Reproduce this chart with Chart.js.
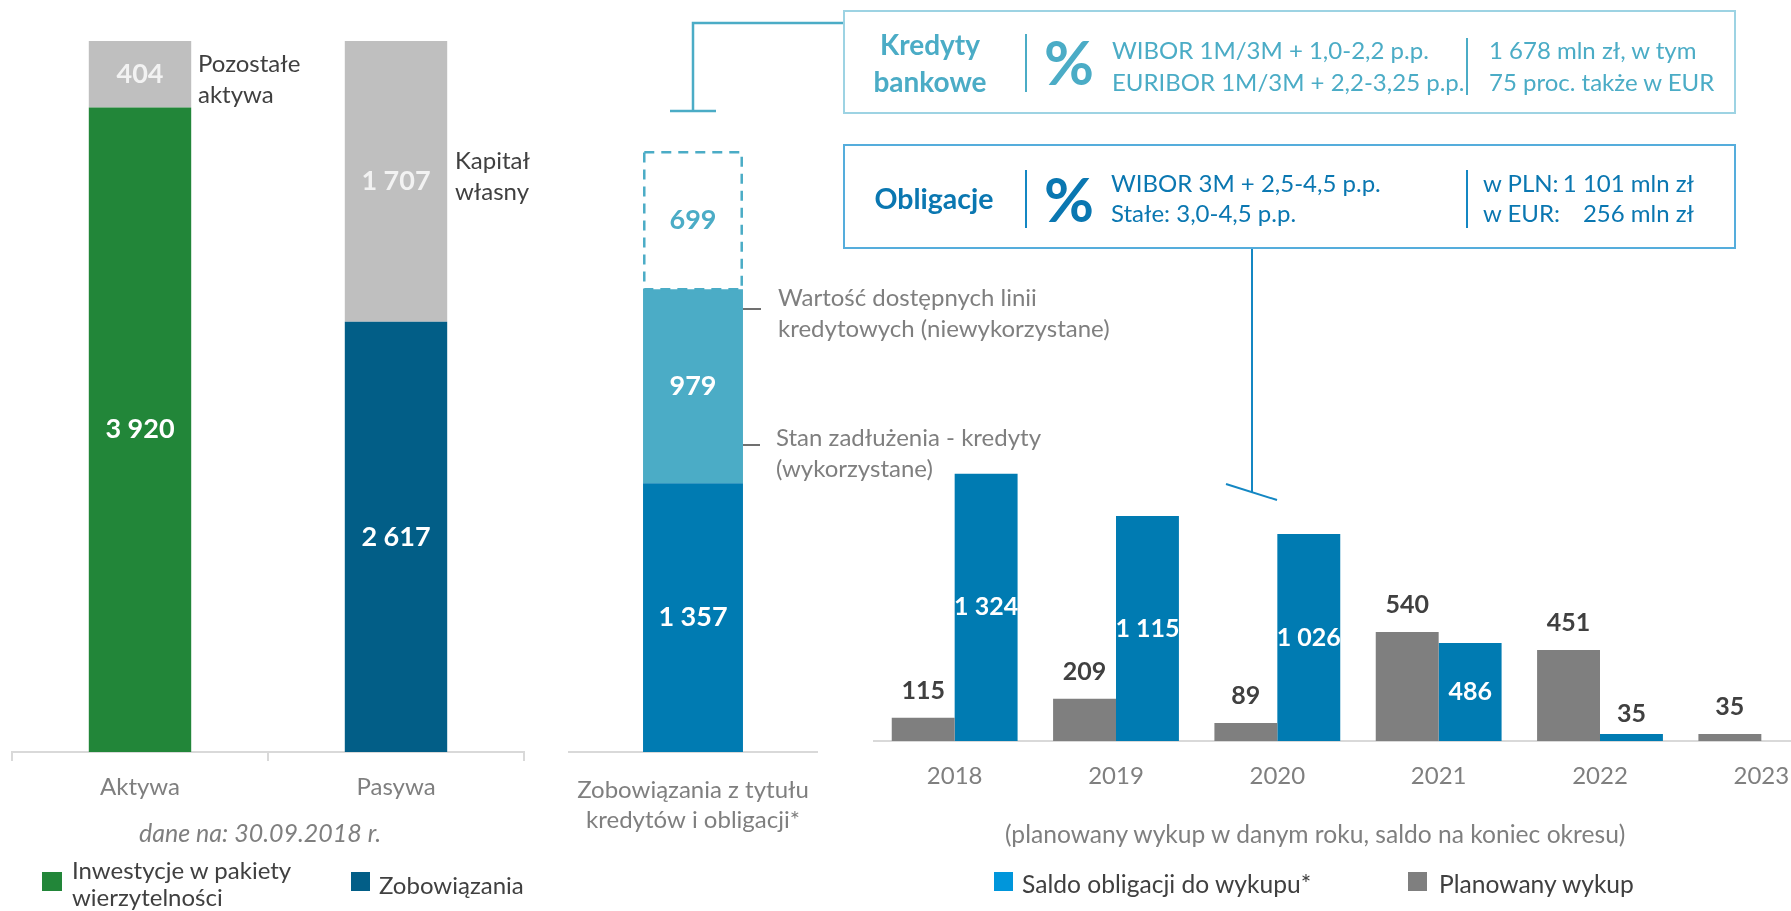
<!DOCTYPE html>
<html lang="pl">
<head>
<meta charset="utf-8">
<title>Struktura bilansu i zadłużenia</title>
<script src="https://cdn.jsdelivr.net/npm/chart.js@4.4.1/dist/chart.umd.min.js"></script>
<style>
  html, body { margin: 0; padding: 0; background: #fff; overflow: hidden; }
  body { width: 1791px; height: 911px; position: relative; font-family: Lato, sans-serif; font-size: 24px; color: #404040; }
  canvas { position: absolute; top: 0; }
  .t { position: absolute; white-space: nowrap; line-height: 31px; }
  .grey { color: #7f7f7f; }
  .box { position: absolute; left: 843px; width: 893px; box-sizing: border-box; background: #fff; }
  .sq { position: absolute; width: 19px; height: 19px; }
  svg { position: absolute; left: 0; top: 0; }
</style>
</head>
<body>

<div class="box" style="top:10px;height:104px;border:2px solid #9dd3e3;"></div>
<div class="box" style="top:144px;height:105px;border:2px solid #55addc;"></div>

<canvas id="balanceChart"></canvas>
<canvas id="debtChart"></canvas>
<canvas id="bondChart"></canvas>

<svg width="1791" height="911">
  <g fill="none" stroke="#4bacc6" stroke-width="2.5">
    <polyline points="843,23 693,23 693,111"/>
    <line x1="670" y1="111" x2="716" y2="111"/>
    <line x1="1026" y1="34" x2="1026" y2="92" stroke-width="2"/>
    <line x1="1467" y1="38" x2="1467" y2="95" stroke-width="2"/>
  </g>
  <g fill="none" stroke="#1487c3" stroke-width="2">
    <line x1="1026" y1="170" x2="1026" y2="228"/>
    <line x1="1467" y1="170" x2="1467" y2="228"/>
    <line x1="1252" y1="249" x2="1252" y2="492"/>
    <line x1="1226" y1="484" x2="1277" y2="500"/>
  </g>
  <g stroke="#404040" stroke-width="1.5">
    <line x1="743" y1="309" x2="761" y2="309"/>
    <line x1="743" y1="445" x2="760" y2="445"/>
  </g>
</svg>

<!-- box texts -->
<div class="t" style="left:830px;top:26px;width:200px;text-align:center;line-height:37px;font-weight:bold;font-size:28px;color:#4bacc6;">Kredyty<br>bankowe</div>
<div class="t" style="left:1036px;top:30px;width:66px;text-align:center;line-height:64px;font-weight:bold;font-size:61px;color:#4bacc6;">%</div>
<div class="t" style="left:1112px;top:34px;line-height:32px;color:#4bacc6;">WIBOR 1M/3M + 1,0-2,2 p.p.<br>EURIBOR 1M/3M + 2,2-3,25 p.p.</div>
<div class="t" style="left:1489px;top:34px;line-height:32px;color:#4bacc6;">1 678 mln zł, w tym<br>75 proc. także w EUR</div>

<div class="t" style="left:834px;top:180px;width:200px;text-align:center;line-height:37px;font-weight:bold;font-size:28.5px;color:#0a77b1;">Obligacje</div>
<div class="t" style="left:1036px;top:167px;width:66px;text-align:center;line-height:64px;font-weight:bold;font-size:61px;color:#0a77b1;">%</div>
<div class="t" style="left:1111px;top:168px;line-height:30px;color:#0a77b1;">WIBOR 3M + 2,5-4,5 p.p.<br>Stałe: 3,0-4,5 p.p.</div>
<div class="t" style="left:1483px;top:168px;width:211px;line-height:30px;color:#0a77b1;">
  <div style="display:flex;justify-content:space-between;"><span>w PLN:</span><span>1 101 mln zł</span></div>
  <div style="display:flex;justify-content:space-between;"><span>w EUR:</span><span>256 mln zł</span></div>
</div>

<!-- annotations -->
<div class="t" style="left:198px;top:47px;">Pozostałe<br>aktywa</div>
<div class="t" style="left:455px;top:144px;">Kapitał<br>własny</div>
<div class="t grey" style="left:778px;top:281px;">Wartość dostępnych linii<br>kredytowych (niewykorzystane)</div>
<div class="t grey" style="left:776px;top:421px;">Stan zadłużenia - kredyty<br>(wykorzystane)</div>
<div class="t grey" style="left:0;top:817px;width:520px;text-align:center;font-style:italic;font-size:25px;">dane na: 30.09.2018 r.</div>
<div class="t grey" style="left:1005px;top:818px;width:600px;text-align:center;font-size:24.6px;">(planowany wykup w danym roku, saldo na koniec okresu)</div>

<!-- legends -->
<div class="sq" style="left:42px;top:872px;width:20px;background:#228639;"></div>
<div class="t" style="left:72px;top:856px;line-height:27px;">Inwestycje w pakiety<br>wierzytelności</div>
<div class="sq" style="left:351px;top:872px;background:#025e87;"></div>
<div class="t" style="left:379px;top:869px;">Zobowiązania</div>
<div class="sq" style="left:994px;top:872px;background:#0096db;"></div>
<div class="t" style="left:1022px;top:868px;font-size:24.6px;">Saldo obligacji do wykupu*</div>
<div class="sq" style="left:1408px;top:872px;background:#7f7f7f;"></div>
<div class="t" style="left:1439px;top:868px;font-size:24.6px;">Planowany wykup</div>

<script>
// Balance sheet (mln zł)
var balanceLabels = ['Aktywa', 'Pasywa'];
var investments = [3920, null];
var liabilities = [null, 2617];
var otherItems = [404, 1707];

// Debt from loans and bonds (mln zł)
var debtLabels = [['Zobowiązania z tytułu', 'kredytów i obligacji*']];
var bondsOutstanding = [1357];
var creditUsed = [979];
var creditUnused = [699];

// Bond schedule (mln zł)
var years = ['2018', '2019', '2020', '2021', '2022', '2023'];
var plannedRedemption = [115, 209, 89, 540, 451, 35];
var bondBalance = [1324, 1115, 1026, 486, 35, null];

function fmt(v) {
    return String(v).replace(/\B(?=(\d{3})+(?!\d))/g, ' ');
}

// Value labels: inside the bar when it is tall enough, above it otherwise
var valueLabels = {
    id: 'valueLabels',
    afterDatasetsDraw: function(chart) {
        var ctx = chart.ctx;
        chart.data.datasets.forEach(function(ds, i) {
            var meta = chart.getDatasetMeta(i);
            meta.data.forEach(function(bar, j) {
                var v = ds.data[j];
                if (v === null || v === undefined) return;
                var h = bar.base - bar.y;
                var inside = ds.labelPos !== 'top' && h > 40;
                ctx.save();
                ctx.font = 'bold ' + (ds.labelSize || 27) + 'px Lato';
                ctx.fillStyle = inside ? ds.labelColor : '#404040';
                ctx.textAlign = 'center';
                ctx.textBaseline = 'middle';
                ctx.fillText(fmt(v), bar.x, inside ? (bar.y + bar.base) / 2 : bar.y - (ds.labelPos === 'top' ? 27 : 20));
                ctx.restore();
            });
        });
    }
};

// Dashed outline for the unused credit lines
var dashedBars = {
    id: 'dashedBars',
    afterDatasetsDraw: function(chart) {
        var ctx = chart.ctx;
        chart.data.datasets.forEach(function(ds, i) {
            if (!ds.dashed) return;
            chart.getDatasetMeta(i).data.forEach(function(bar) {
                ctx.save();
                ctx.strokeStyle = ds.dashColor;
                ctx.lineWidth = 2.5;
                ctx.setLineDash([10, 7]);
                ctx.strokeRect(bar.x - bar.width / 2 + 1.25, bar.y + 1.25, bar.width - 2.5, bar.base - bar.y - 1.25);
                ctx.restore();
            });
        });
    }
};

function makeChart(id, left, width, pad, config) {
    var el = document.getElementById(id);
    el.style.left = left + 'px';
    el.width = width;
    el.height = 880;
    config.options.responsive = false;
    config.options.animation = false;
    config.options.layout = { padding: { left: pad.left, right: pad.right, top: pad.top, bottom: 0 } };
    config.plugins = [dashedBars, valueLabels];
    var chart = new Chart(el, config);
    // move the bottom of the plot area to the wanted height
    config.options.layout.padding.bottom = chart.chartArea.bottom - pad.bottom;
    chart.update();
    return chart;
}

var axisFont = { family: 'Lato', size: 24 };
var noLegend = { legend: { display: false }, tooltip: { enabled: false } };

makeChart('balanceChart', 0, 560, { left: 12, right: 36, top: 41, bottom: 752 }, {
    type: 'bar',
    data: {
        labels: balanceLabels,
        datasets: [
            { label: 'Inwestycje w pakiety wierzytelności', data: investments, backgroundColor: '#228639', labelColor: '#ffffff' },
            { label: 'Zobowiązania', data: liabilities, backgroundColor: '#025e87', labelColor: '#ffffff' },
            { label: 'Pozostałe aktywa / Kapitał własny', data: otherItems, backgroundColor: '#bfbfbf', labelColor: '#f2f2f2' }
        ]
    },
    options: {
        plugins: noLegend,
        datasets: { bar: { barPercentage: 0.4, categoryPercentage: 1 } },
        scales: {
            x: {
                stacked: true,
                grid: { display: true, drawOnChartArea: false, drawTicks: true, tickLength: 9, color: '#d9d9d9', lineWidth: 2 },
                border: { display: true, color: '#d9d9d9', width: 2 },
                ticks: { color: '#7f7f7f', font: axisFont, padding: 12 }
            },
            y: { stacked: true, display: false, min: 0, max: 4324 }
        }
    }
});

makeChart('debtChart', 540, 340, { left: 29, right: 63, top: 41, bottom: 752 }, {
    type: 'bar',
    data: {
        labels: debtLabels,
        datasets: [
            { label: 'Obligacje', data: bondsOutstanding, backgroundColor: '#007bb2', labelColor: '#ffffff' },
            { label: 'Stan zadłużenia - kredyty (wykorzystane)', data: creditUsed, backgroundColor: '#4bacc6', labelColor: '#ffffff' },
            { label: 'Wartość dostępnych linii kredytowych (niewykorzystane)', data: creditUnused, backgroundColor: 'rgba(0,0,0,0)', dashed: true, dashColor: '#4bacc6', labelColor: '#4bacc6' }
        ]
    },
    options: {
        plugins: noLegend,
        datasets: { bar: { barPercentage: 0.403, categoryPercentage: 1 } },
        scales: {
            x: {
                stacked: true,
                grid: { display: false },
                border: { display: true, color: '#d9d9d9', width: 2 },
                ticks: { color: '#7f7f7f', font: { family: 'Lato', size: 24, lineHeight: 1.25 }, padding: 15 }
            },
            y: { stacked: true, display: false, min: 0, max: 3590 }
        }
    }
});

makeChart('bondChart', 860, 1000, { left: 14, right: 18, top: 400, bottom: 741 }, {
    type: 'bar',
    data: {
        labels: years,
        datasets: [
            { label: 'Planowany wykup', data: plannedRedemption, backgroundColor: '#7f7f7f', labelPos: 'top', labelSize: 25 },
            { label: 'Saldo obligacji do wykupu*', data: bondBalance, backgroundColor: '#007bb2', labelColor: '#ffffff', labelSize: 25 }
        ]
    },
    options: {
        plugins: noLegend,
        datasets: { bar: { barPercentage: 1, categoryPercentage: 0.78 } },
        scales: {
            x: {
                grid: { display: false },
                border: { display: true, color: '#d9d9d9', width: 2 },
                ticks: { color: '#7f7f7f', font: axisFont, padding: 13 }
            },
            y: { display: false, min: 0, max: 1690 }
        }
    }
});
</script>
</body>
</html>
